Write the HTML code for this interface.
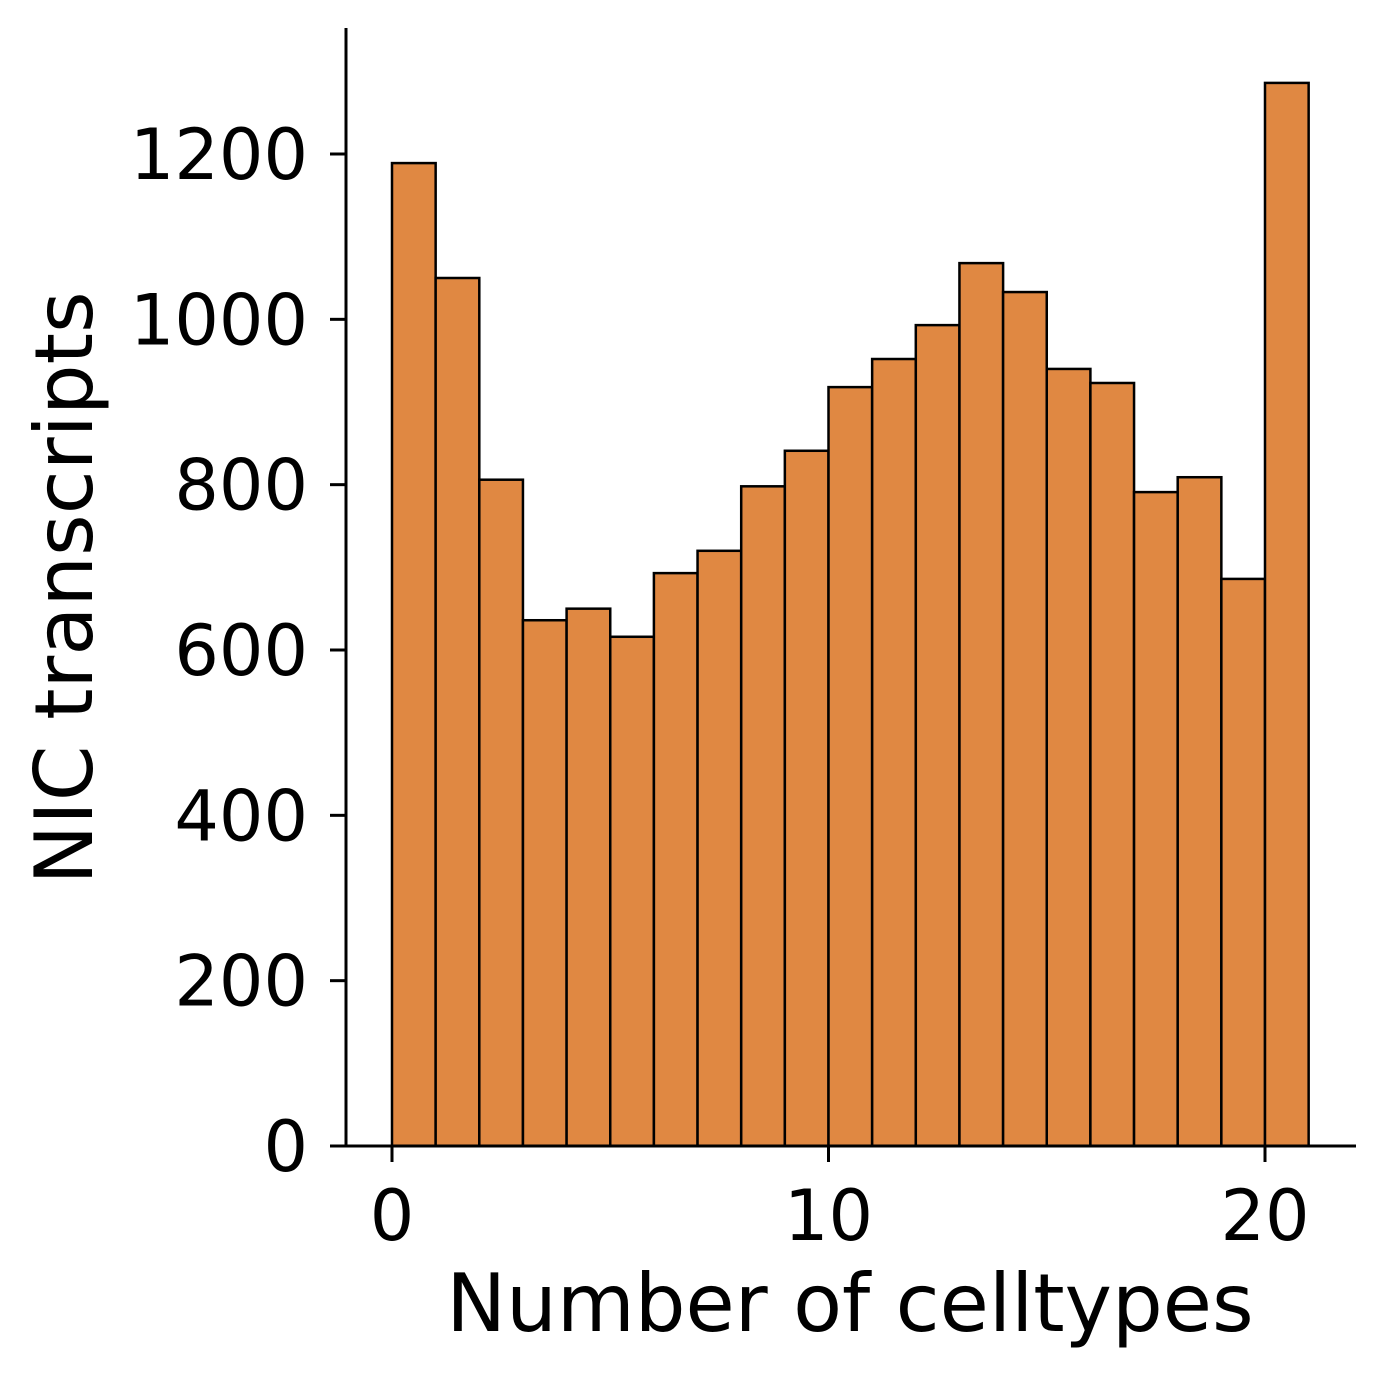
<!DOCTYPE html>
<html><head><meta charset="utf-8"><style>
html,body{margin:0;padding:0;background:#fff;}
svg{display:block;font-family:"DejaVu Sans","Liberation Sans",sans-serif;}
</style></head><body>
<svg id="chart" width="1385" height="1377" viewBox="0 0 1385 1377" xmlns="http://www.w3.org/2000/svg">
<g id="bars"></g>
<g id="axes"></g>
<text x="850" y="1331" font-size="80" text-anchor="middle">Number of celltypes</text>
<text transform="translate(92,588) rotate(-90)" font-size="80" text-anchor="middle">NIC transcripts</text>
</svg>
<script>
const binStarts=[0,1,2,3,4,5,6,7,8,9,10,11,12,13,14,15,16,17,18,19,20];
const counts=[1189,1050,806,636,650,616,693,720,798,841,918,952,993,1068,1033,940,923,791,809,686,1286];
const yTicks=[0,200,400,600,800,1000,1200];
const xTicks=[0,10,20];
const NS="http://www.w3.org/2000/svg";
const x=v=>392+v*43.65;
const y=v=>1146-v*(992/1200);
const bars=document.getElementById('bars');
binStarts.forEach((b,i)=>{
  const r=document.createElementNS(NS,'rect');
  r.setAttribute('x',x(b));r.setAttribute('y',y(counts[i]));
  r.setAttribute('width',x(b+1)-x(b));r.setAttribute('height',y(0)-y(counts[i]));
  r.setAttribute('fill','#e08842');r.setAttribute('stroke','#000');r.setAttribute('stroke-width','2.5');
  
  
  bars.appendChild(r);
});
const axes=document.getElementById('axes');
function ln(x1,y1,x2,y2,name){const l=document.createElementNS(NS,'line');
  l.setAttribute('x1',x1);l.setAttribute('y1',y1);l.setAttribute('x2',x2);l.setAttribute('y2',y2);
  l.setAttribute('stroke','#000');l.setAttribute('stroke-width','3');
  
  
  axes.appendChild(l);}
function tx(xp,yp,s,anchor,name){const t=document.createElementNS(NS,'text');
  t.setAttribute('x',xp);t.setAttribute('y',yp);t.setAttribute('font-size','70');t.setAttribute('text-anchor',anchor);
  t.textContent=s;
  
  
  axes.appendChild(t);}
ln(346,28,346,1147,'y-axis-line');
ln(345,1146,1356,1146,'x-axis-line');
yTicks.forEach(v=>{ln(330,y(v),346,y(v),'y-tick');tx(308,y(v)+25,String(v),'end','y-tick-label');});
xTicks.forEach(v=>{ln(x(v),1146,x(v),1162,'x-tick');tx(x(v),1240,String(v),'middle','x-tick-label');});
</script>
</body></html>
